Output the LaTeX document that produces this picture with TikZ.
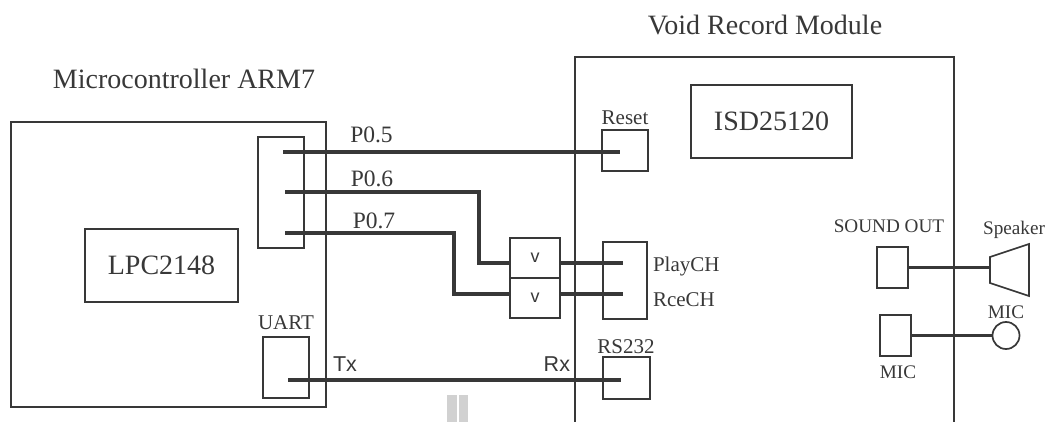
\documentclass[tikz,border=0pt]{standalone}
\usepackage{fontspec}
\setmainfont{Liberation Serif}
\newfontfamily\sansf{Liberation Sans}
\definecolor{ink}{HTML}{383838}
\tikzset{
  x=1pt,y=-1pt,
  every node/.style={text=ink,inner sep=0pt,outer sep=0pt},
  boxa/.style={draw=ink,line width=1.7pt,fill=none,anchor=north west},
  wire/.style={draw=ink,line width=3.8pt,line join=miter},
  frame/.style={draw=ink,line width=1.7pt},
  title/.style={font=\fontsize{28}{28}\selectfont,anchor=base},
  chip/.style={font=\fontsize{28}{28}\selectfont},
  pin/.style={font=\fontsize{23.5}{23.5}\selectfont,anchor=base},
  lab/.style={font=\fontsize{21}{21}\selectfont},
  small/.style={font=\fontsize{19.2}{19.2}\selectfont,anchor=base},
  sans/.style={font=\sansf\fontsize{21.5}{21.5}\selectfont},
}
\begin{document}
\begin{tikzpicture}
\useasboundingbox (0,0) rectangle (1049,422);
% faint artefact
\fill[black!18] (447,395) rectangle (457,422);
\fill[black!18] (459,395) rectangle (468,422);
% frames
\coordinate (ml) at (575,422);
\coordinate (mr) at (954,422);
\draw[frame] (ml) -- (575,57) -- (954,57) -- (mr);
\node[boxa,minimum width=315pt,minimum height=285pt] (mcu) at (11,122) {};
% boxes
\node[boxa,minimum width=46pt,minimum height=111pt] (port) at (258,137) {};
\node[boxa,chip,minimum width=153pt,minimum height=73pt] (lpc) at (85,229) {\raisebox{-5pt}{LPC2148}};
\node[boxa,minimum width=46pt,minimum height=61pt] (uart) at (263,337) {};
\node[boxa,minimum width=46pt,minimum height=41pt] (reset) at (602,130) {};
\node[boxa,chip,minimum width=161pt,minimum height=73pt] (isd) at (691,85) {\raisebox{-5pt}{ISD25120}};
\node[boxa,font=\sansf\fontsize{18}{18}\selectfont,minimum width=50pt,minimum height=40pt] (v1) at (510,238) {v};
\node[boxa,font=\sansf\fontsize{18}{18}\selectfont,minimum width=50pt,minimum height=40pt] (v2) at (510,278) {v};
\node[boxa,minimum width=44pt,minimum height=77pt] (ch) at (603,242) {};
\node[boxa,minimum width=47pt,minimum height=42pt] (rs) at (603,357) {};
\node[boxa,minimum width=31pt,minimum height=41pt] (so) at (877,247) {};
\node[boxa,minimum width=31pt,minimum height=41pt] (mb) at (880,315) {};
\node[draw=ink,line width=1.7pt,circle,minimum size=27pt] (mc) at (1006,335.5) {};
\coordinate (sp1) at (990,257);
\coordinate (sp2) at (1029,244);
\coordinate (sp3) at (1029,296);
\coordinate (sp4) at (990,283);
\coordinate (spm) at (990,267.5);
\draw[frame,line join=miter] (sp1) -- (sp2) -- (sp3) -- (sp4) -- cycle;
% wire ends
\coordinate (a5) at (283,152); \coordinate (b5) at (620,152);
\coordinate (a6) at (285,192); \coordinate (a7) at (285,233);
\coordinate (e1) at (623,263); \coordinate (e2) at (623,294);
\coordinate (tx) at (288,380); \coordinate (rx) at (621,380);
% wires
\draw[wire] (a5) -- (b5);
\draw[wire] (a6) -- (479,192) -- (479,263) -- (v1.west |- 0,263);
\draw[wire] (a7) -- (454,233) -- (454,294) -- (v2.west |- 0,294);
\draw[wire] (v1.east |- 0,263) -- (e1);
\draw[wire] (v2.east |- 0,294) -- (e2);
\draw[wire] (tx) -- (rx);
\draw[wire] (so.east) -- (spm);
\draw[wire] (mb.east) -- (mc.west);
% labels
\node[title] (t1) at (184,89) {Microcontroller ARM7};
\node[title] (t2) at (765,35) {Void Record Module};
\node[pin] (p5) at (371.5,143) {P0.5};
\node[pin] (p6) at (372,186) {P0.6};
\node[pin] (p7) at (374,229) {P0.7};
\node[lab,anchor=base] (lr) at (625,125) {Reset};
\node[lab,anchor=base] (lu) at (286,329) {UART};
\node[lab,anchor=base] (lrs) at (626,353) {RS232};
\node[lab,anchor=base west] (lp) at (653,271) {PlayCH};
\node[lab,anchor=base west] (lc) at (653,306) {RceCH};
\node[small] (lso) at (889,233) {SOUND OUT};
\node[small] (ls) at (1014,234) {Speaker};
\node[small] (lm1) at (1006,318) {MIC};
\node[small] (lm2) at (898,378) {MIC};
\node[sans,anchor=base west] (ltx) at (333,371) {Tx};
\node[sans,anchor=base east] (lrx) at (570,371) {Rx};
\end{tikzpicture}
\end{document}
